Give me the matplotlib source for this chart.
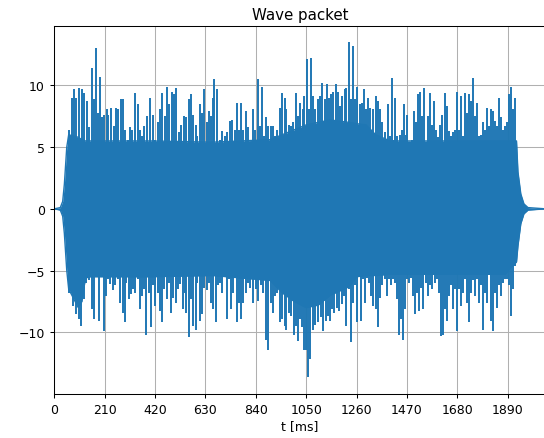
"""Wave packet figure, redrawn from a screenshot."""
import numpy as np
import matplotlib
matplotlib.use("Agg")
import matplotlib.pyplot as plt

plt.rcParams.update({
    "font.size": 9, "axes.titlesize": 10.8, "axes.labelsize": 9,
    "xtick.labelsize": 9, "ytick.labelsize": 9,
    "axes.linewidth": 0.75, "xtick.major.size": 3.2, "ytick.major.size": 3.2,
    "xtick.major.width": 0.75, "ytick.major.width": 0.75,
    "grid.linewidth": 0.75,
})
BLUE = "#1f77b4"

# solid core of the packet (times in ms)
t_core = [0, 25, 35, 42, 47, 52, 60, 100, 115, 130, 150, 400, 660, 900, 950,
          1000, 1050, 1100, 1150, 1230, 1260, 1300, 1340, 1400, 1880, 1900,
          1927, 1933, 1945, 1958, 1975, 2048]
core_hi = [0, 0.1, 0.6, 2.0, 3.5, 5.0, 6.0, 5.8, 5.6, 5.5, 5.5, 5.5, 5.4, 5.6,
           6.0, 6.4, 6.8, 7.0, 7.2, 7.0, 6.9, 6.8, 6.0, 5.5, 5.5, 5.5,
           5.5, 3.0, 1.2, 0.4, 0.1, 0]
core_lo = [0, -0.1, -0.6, -2.0, -3.5, -5.0, -6.5, -8.0, -7.5, -5.6, -5.5,
           -5.5, -5.4, -5.8, -6.8, -7.5, -8.0, -7.8, -7.0, -6.3, -5.5, -5.4,
           -5.4, -5.3, -5.3, -4.8, -4.3, -3.0, -1.2, -0.4, -0.1, 0]

# upward peaks
t_up = [62, 72, 83, 92, 104, 114, 125, 135, 144, 157, 165, 175, 182, 190, 199,
        208, 218, 226, 236, 247, 258, 267, 278, 288, 296, 306, 315, 324, 336,
        347, 357, 367, 376, 388, 400, 410, 419, 431, 442, 450, 460, 469, 479,
        489, 497, 508, 518, 528, 539, 549, 560, 569, 579, 589, 597, 607, 617,
        625, 635, 644, 653, 661,
        666, 680, 691, 700, 710, 721, 731, 742, 752, 760, 771, 780, 788, 798,
        807, 818, 830, 838, 848, 857, 866, 874, 884, 892, 902, 910, 920, 930,
        939, 950, 960, 968, 978, 988, 996, 1007, 1016, 1024, 1035, 1043, 1053,
        1061, 1070, 1080, 1089, 1099, 1107, 1117, 1127, 1135, 1145, 1155, 1163,
        1173, 1182, 1191, 1200, 1210, 1218, 1230, 1238, 1246, 1255, 1263, 1273,
        1281, 1291, 1299, 1309, 1318, 1327,
        1341, 1350, 1358, 1368, 1377, 1391, 1400, 1407, 1414, 1422, 1430, 1440,
        1448, 1457, 1465, 1472, 1480, 1490, 1500, 1508, 1516, 1525, 1533, 1541,
        1550, 1558, 1566, 1575, 1583, 1591, 1600, 1608, 1616, 1627, 1636, 1644,
        1652, 1661, 1670, 1680, 1689, 1697, 1705, 1714, 1722, 1730, 1739, 1744,
        1752, 1761, 1769, 1777, 1786, 1794, 1802, 1811, 1819, 1827, 1836, 1844,
        1855, 1864, 1872, 1880, 1889, 1897, 1905, 1914, 1922]
v_up = [6.4, 9.0, 9.7, 9.0, 9.8, 9.7, 9.4, 8.7, 6.6, 11.4, 8.9, 13.0, 7.8,
        10.7, 7.4, 7.6, 8.1, 7.6, 8.2, 6.7, 8.2, 8.1, 8.9, 8.9, 6.4, 5.6, 6.6,
        6.4, 9.4, 8.5, 6.4, 5.9, 6.7, 7.5, 9.0, 7.6, 5.6, 7.0, 8.1, 9.4, 7.5,
        9.9, 8.5, 9.5, 9.3, 9.8, 6.2, 6.8, 7.5, 7.4, 8.9, 9.3, 7.6, 6.8, 5.9,
        8.5, 7.8, 9.7, 7.0, 7.9, 7.5, 9.0,
        10.5, 9.7, 5.6, 6.3, 5.9, 6.2, 7.1, 7.2, 6.4, 8.6, 6.4, 8.6, 6.4, 7.9,
        6.6, 5.1, 8.1, 6.4, 10.5, 6.7, 9.9, 5.9, 7.4, 6.7, 6.7, 6.7, 5.9, 6.4,
        8.2, 9.4, 9.0, 8.1, 6.8, 6.7, 7.0, 9.4, 7.5, 8.6, 8.1, 9.1, 12.1,
        8.1, 12.2, 9.1, 8.1, 8.9, 9.1, 10.2, 8.9, 10.1, 9.0, 9.3, 9.5,
        10.1, 9.5, 8.3, 9.1, 9.7, 9.8, 13.5, 8.9, 13.2, 8.9, 9.9, 8.5,
        8.6, 9.7, 8.1, 9.0, 8.2, 8.1,
        9.1, 8.7, 8.1, 7.0, 6.2, 8.5, 5.9, 10.6, 5.6, 9.0, 5.9, 6.0,
        6.4, 8.5, 6.0, 7.6, 5.4, 5.6, 7.9, 7.0, 9.3, 9.5, 7.5, 9.8,
        5.1, 7.5, 9.4, 6.8, 8.7, 6.4, 5.8, 6.8, 7.6, 9.4, 8.3, 6.3,
        5.9, 6.2, 6.4, 9.5, 6.4, 9.1, 5.9, 9.4, 7.8, 9.3, 8.7, 10.6,
        7.5, 8.6, 5.9, 6.0, 7.0, 6.4, 8.2, 6.7, 8.1, 7.9, 7.1, 6.7,
        9.0, 7.4, 6.4, 6.7, 7.0, 9.3, 9.9, 8.1, 9.0]

# downward peaks
t_dn = [62, 76, 90, 104, 111, 122, 132, 143, 157, 167, 178, 186, 196, 206,
        215, 225, 233, 243, 253, 264, 275, 285, 293, 301, 310, 319, 328, 338,
        347, 358, 367, 375, 383, 393, 403, 413, 421, 431, 439, 447, 458, 468,
        478, 486, 496, 506, 514, 525, 535, 543, 551, 560, 569, 579, 589, 597,
        607, 617, 625, 635, 644, 653, 663,
        673, 682, 691, 699, 707, 719, 728, 738, 746, 760, 770, 780, 788, 798,
        809, 818, 830, 839, 849, 860, 870, 881, 892, 902, 912, 921, 930, 941,
        950, 960, 968, 978, 988, 999, 1007, 1016, 1024, 1032, 1041, 1049, 1059,
        1068, 1078, 1089, 1099, 1110, 1120, 1131, 1141, 1149, 1159, 1168, 1180,
        1189, 1199, 1207, 1217, 1227, 1235, 1244, 1252, 1260, 1270, 1277, 1285,
        1294, 1302, 1312, 1321, 1330,
        1340, 1350, 1358, 1368, 1377, 1386, 1394, 1402, 1411, 1419, 1427, 1436,
        1444, 1454, 1462, 1472, 1480, 1489, 1497, 1505, 1514, 1522, 1530, 1539,
        1548, 1558, 1566, 1576, 1586, 1594, 1604, 1614, 1622, 1630, 1639, 1647,
        1655, 1664, 1672, 1680, 1689, 1697, 1705, 1714, 1722, 1730, 1739, 1747,
        1755, 1764, 1772, 1780, 1789, 1797, 1805, 1814, 1822, 1830, 1839, 1847,
        1855, 1864, 1872, 1880, 1889, 1897, 1905, 1914, 1922]
v_dn = [-6.8, -7.9, -8.5, -8.9, -9.5, -7.3, -6.0, -5.8, -8.1, -8.9, -5.4, -9.1,
        -5.4, -9.9, -7.1, -5.7, -6.1, -6.6, -6.2, -5.7, -7.6, -8.4, -9.2, -6.0,
        -7.3, -6.9, -6.5, -6.8, -5.7, -8.1, -7.1, -6.5, -10.2, -6.8, -9.6,
        -6.2, -7.9, -6.8, -8.3, -9.2, -6.5, -7.3, -6.0, -8.4, -7.2, -7.6, -6.5,
        -6.1, -8.1, -6.8, -8.4, -10.4, -7.3, -9.5, -9.8, -6.0, -9.1, -8.5,
        -6.4, -6.6, -6.0, -7.6, -8.1,
        -9.2, -6.2, -6.0, -6.8, -5.4, -8.9, -5.7, -8.1, -6.8, -9.2, -7.6, -8.9,
        -7.6, -6.8, -6.0, -6.4, -7.6, -6.5, -7.5, -6.2, -6.8, -10.6, -11.4,
        -7.6, -8.4, -7.1, -6.8, -9.2, -8.9, -9.5, -9.8, -8.4, -8.7, -10.2,
        -9.5, -10.7, -8.9, -9.6, -11.4, -11.4, -13.6, -12.2, -9.8, -9.4, -9.2,
        -8.8, -9.9, -9.1, -8.7, -9.1, -8.1, -8.4, -8.0, -8.3, -7.7, -7.1,
        -9.5, -6.5, -10.8, -7.6, -6.2, -9.2, -5.3, -9.1, -5.7, -7.6, -5.6,
        -6.0, -7.1, -7.9,
        -8.1, -9.6, -7.2, -6.2, -5.7, -7.1, -5.7, -6.2, -5.7, -6.0, -7.3,
        -10.2, -8.9, -10.6, -8.1, -5.7, -6.0, -5.6, -7.1, -8.5, -6.8, -8.3,
        -6.4, -8.1, -6.0, -7.1, -6.2, -6.5, -6.0, -5.7, -6.8, -10.3, -10.2,
        -8.1, -9.1, -7.1, -6.2, -8.1, -6.5, -9.9, -6.5, -7.9, -6.8, -5.7,
        -7.6, -9.2, -6.8, -5.8, -7.1, -5.7, -7.6, -6.2, -9.8, -6.8, -7.6,
        -5.4, -9.1, -9.9, -6.8, -8.0, -6.2, -7.1, -6.0, -5.7, -5.7, -6.2,
        -8.7, -6.5, -4.6]

xticks = np.arange(0, 1891, 210)

fig = plt.figure(figsize=(5.44, 4.39), dpi=100)
ax = fig.add_axes([0.0998, 0.1002, 0.903, 0.838])
ax.fill_between(t_core, core_lo, core_hi, color=BLUE, lw=0)
ax.plot(t_core, core_hi, color=BLUE, lw=1.0)
ax.plot(t_core, core_lo, color=BLUE, lw=1.0)
ax.vlines(t_up, 0, v_up, color=BLUE, lw=1.4)
ax.vlines(t_dn, v_dn, 0, color=BLUE, lw=1.4)
ax.set_xlim(0, 2048)
ax.set_ylim(-15.0, 14.8)
ax.set_xticks(xticks)
ax.set_yticks([-10, -5, 0, 5, 10])
ax.grid(True)
ax.set_axisbelow(True)
ax.set_title("Wave packet", pad=5)
ax.set_xlabel("t [ms]", labelpad=2)
fig.savefig("out.png", dpi=100)
